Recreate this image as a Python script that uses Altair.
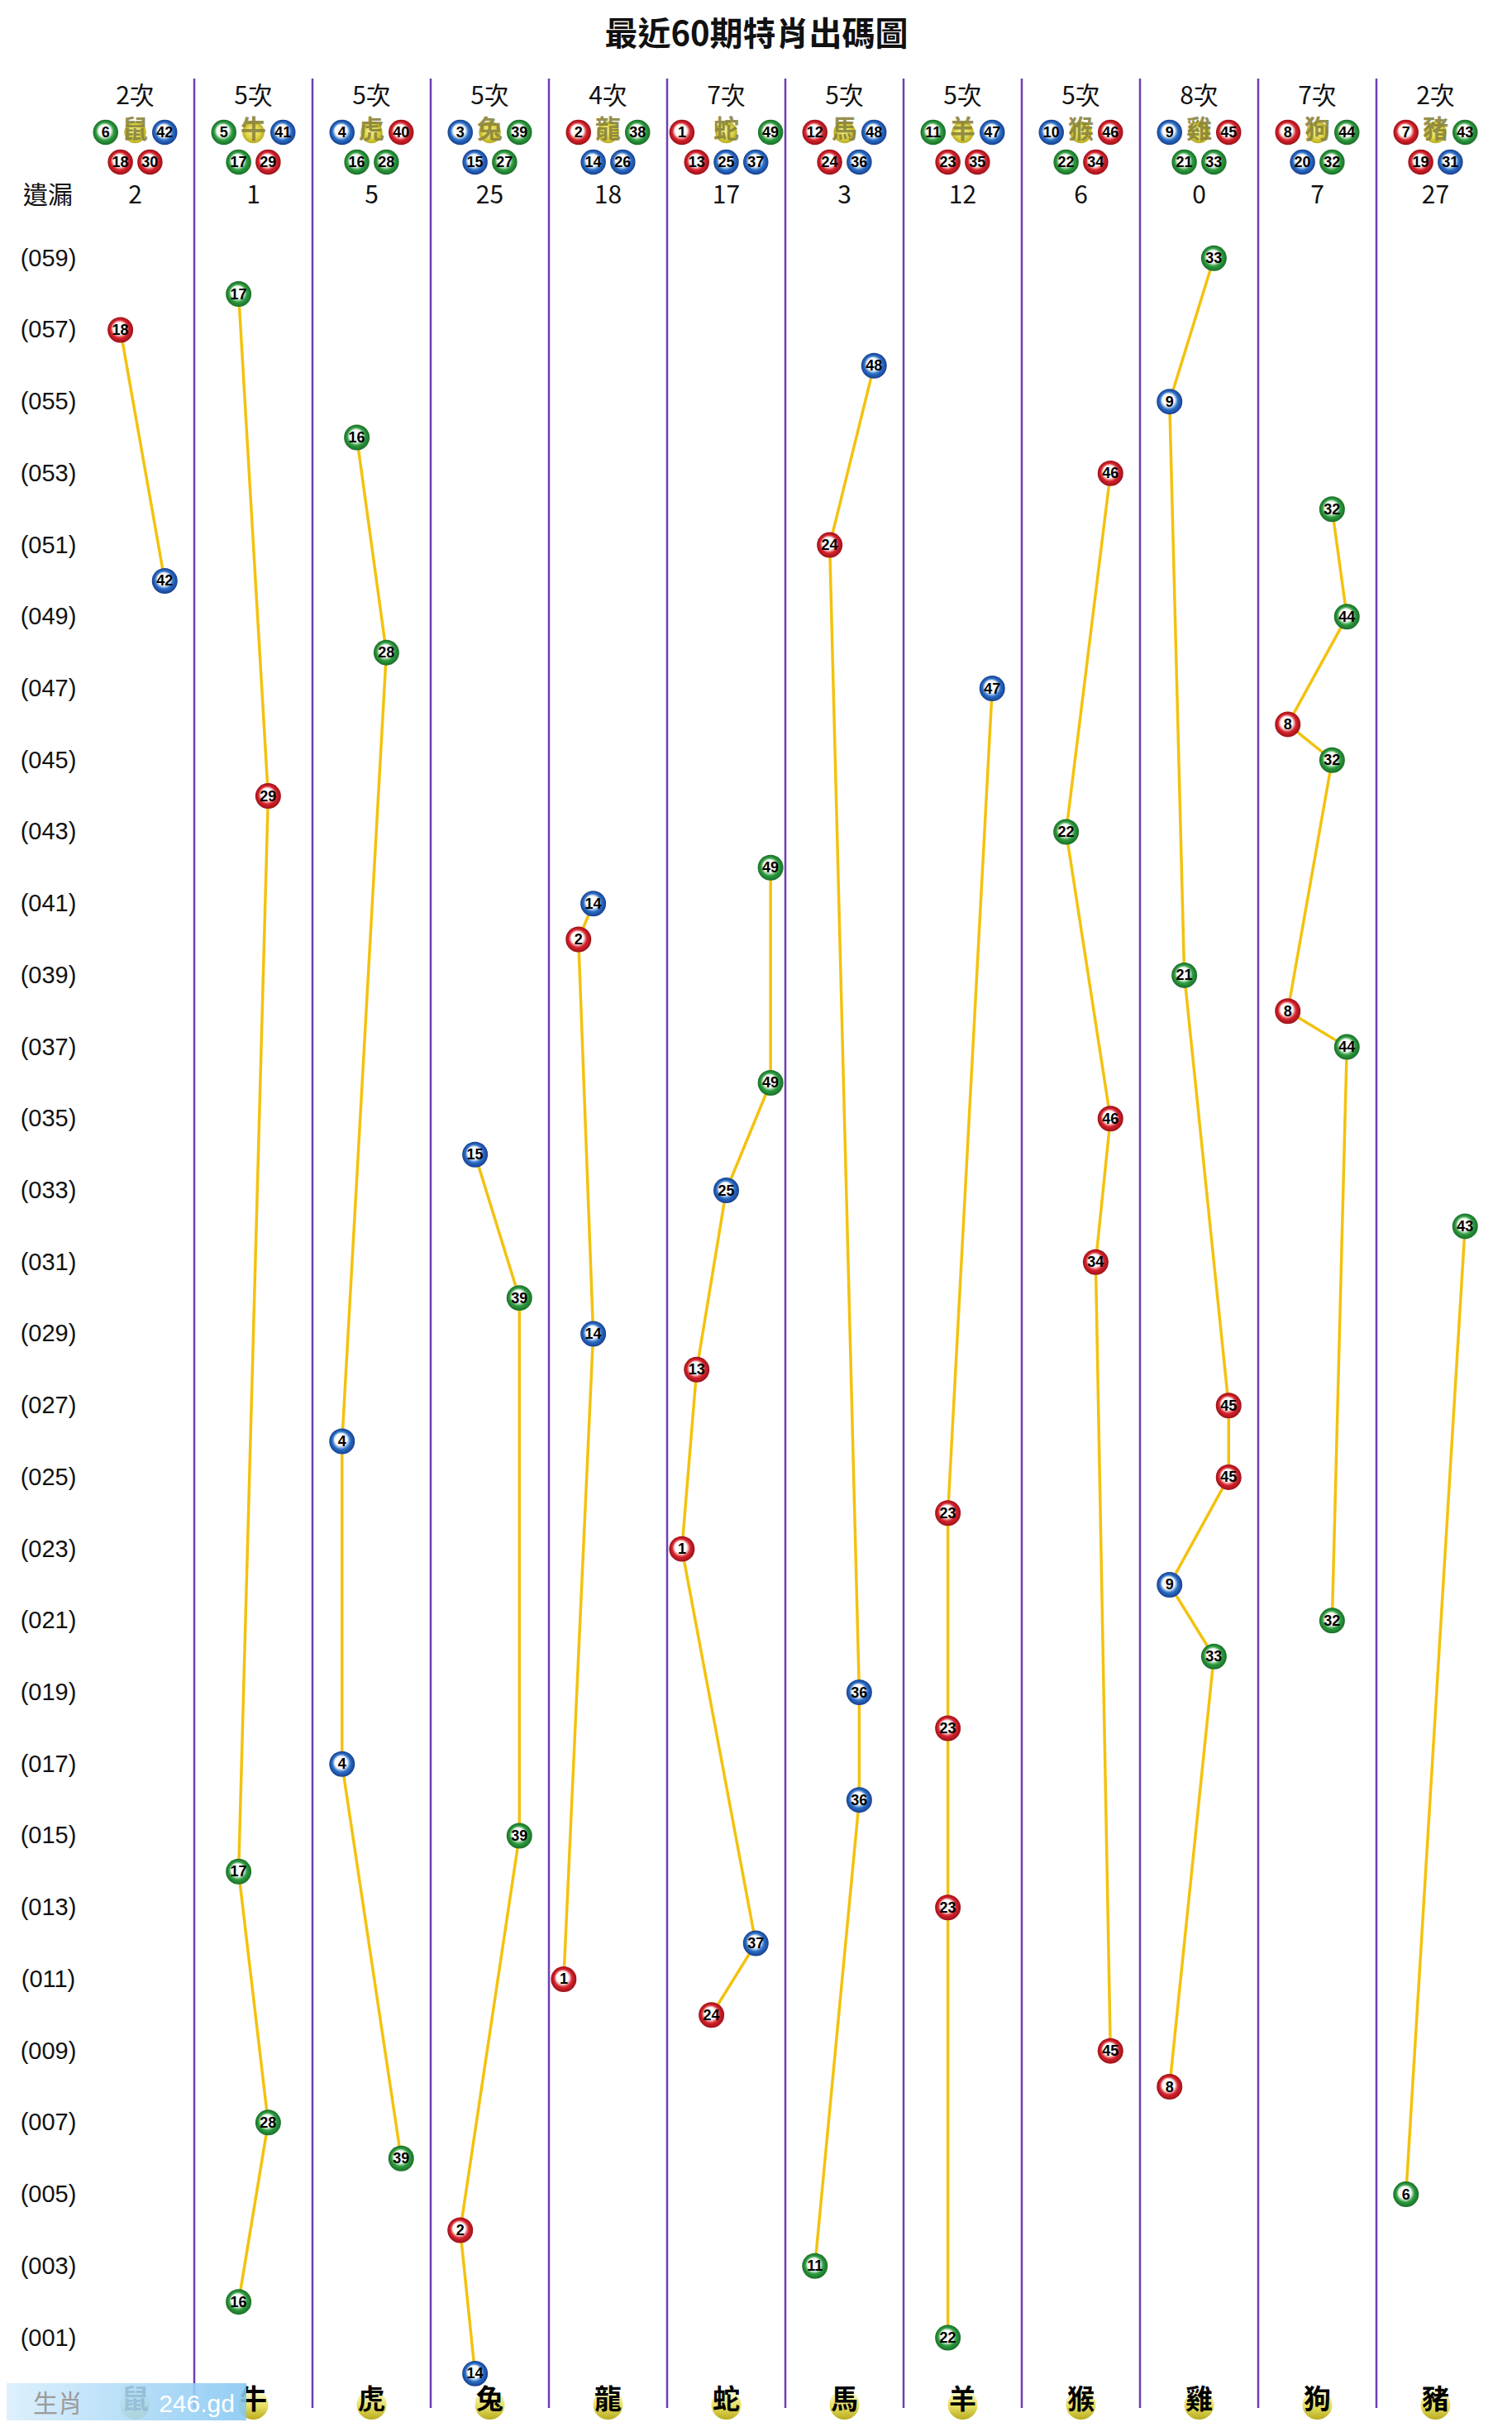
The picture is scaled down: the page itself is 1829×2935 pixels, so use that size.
import altair as alt
import pandas as pd

# ---------------- data ----------------
ZODIACS = ["鼠", "牛", "虎", "兔", "龍", "蛇", "馬", "羊", "猴", "雞", "狗", "豬"]
GROUPS = [
    [6, 18, 30, 42], [5, 17, 29, 41], [4, 16, 28, 40], [3, 15, 27, 39],
    [2, 14, 26, 38], [1, 13, 25, 37, 49], [12, 24, 36, 48], [11, 23, 35, 47],
    [10, 22, 34, 46], [9, 21, 33, 45], [8, 20, 32, 44], [7, 19, 31, 43],
]
COUNTS = [2, 5, 5, 5, 4, 7, 5, 5, 5, 8, 7, 2]
MISSES = [2, 1, 5, 25, 18, 17, 3, 12, 6, 0, 7, 27]

# draws, from the top row (period 059) down to the bottom row
PERIODS = list(range(59, -1, -1))
DRAW_ZODIAC = [
    "雞", "牛", "鼠", "馬", "雞", "虎", "猴", "狗", "馬", "鼠",
    "狗", "虎", "羊", "狗", "狗", "牛", "猴", "蛇", "龍", "龍",
    "雞", "狗", "狗", "蛇", "猴", "兔", "蛇", "豬", "猴", "兔",
    "龍", "蛇", "雞", "虎", "雞", "羊", "蛇", "雞", "狗", "雞",
    "馬", "羊", "虎", "馬", "兔", "牛", "羊", "蛇", "龍", "蛇",
    "猴", "雞", "牛", "虎", "豬", "兔", "馬", "牛", "羊", "兔",
]
DRAW_NUMBER = [
    33, 17, 18, 48, 9, 16, 46, 32, 24, 42,
    44, 28, 47, 8, 32, 29, 22, 49, 14, 2,
    21, 8, 44, 49, 46, 15, 25, 43, 34, 39,
    14, 13, 45, 4, 45, 23, 1, 9, 32, 33,
    36, 23, 4, 36, 39, 17, 23, 37, 1, 24,
    45, 8, 28, 39, 6, 2, 11, 16, 22, 14,
]
LABEL_PERIODS = [59, 57, 55, 53, 51, 49, 47, 45, 43, 41, 39, 37, 35, 33, 31,
                 29, 27, 25, 23, 21, 19, 17, 15, 13, 11, 9, 7, 5, 3, 1]

RED = [1, 2, 7, 8, 12, 13, 18, 19, 23, 24, 29, 30, 34, 35, 40, 45, 46]
BLUE = [3, 4, 9, 10, 14, 15, 20, 25, 26, 31, 36, 37, 41, 42, 47, 48]
GREEN = [5, 6, 11, 16, 17, 21, 22, 27, 28, 32, 33, 38, 39, 43, 44, 49]

TITLE = "最近60期特肖出碼圖"

# ---------------- helpers ----------------
def ball_color(n):
    if n in RED:
        return "red"
    if n in BLUE:
        return "blue"
    return "green"


def slot(n):
    # balls sit where they sit in the header cluster of their number group
    idx = (n - 1) // 12
    if (n - 1) % 12 == 0:
        return [-3, -2, 0, 2, 3][idx]
    return [-2, -1, 1, 2][idx]


col_of = {z: i for i, z in enumerate(ZODIACS)}

draws = pd.DataFrame({"p": PERIODS, "zodiac": DRAW_ZODIAC, "num": DRAW_NUMBER})
draws["col"] = draws["zodiac"].map(col_of)
draws["xpos"] = draws["col"] + draws["num"].map(slot) / 8.0
draws["color"] = draws["num"].map(ball_color)

hrows = []
for i, (z, g) in enumerate(zip(ZODIACS, GROUPS)):
    for k, n in enumerate(g):
        hrows.append({"zodiac": z, "num": n, "xpos": i + slot(n) / 8.0,
                      "row": 1 if k in (0, len(g) - 1) else 2,
                      "color": ball_color(n)})
header = pd.DataFrame(hrows)

zdf = pd.DataFrame({"zodiac": ZODIACS, "col": list(range(len(ZODIACS))),
                    "count": [f"{c}次" for c in COUNTS], "miss": MISSES})
dividers = pd.DataFrame({"b": [k + 0.5 for k in range(len(ZODIACS) - 1)]})

# ---------------- geometry / styles ----------------
W, H = 1716, 2817
xscale = alt.Scale(domain=[-0.5, len(ZODIACS) - 0.5], nice=False, zero=False)
yscale = alt.Scale(domain=[-0.96, 64.01], nice=False, zero=False)

yaxis = alt.Axis(values=LABEL_PERIODS,
                 labelExpr="'(' + (datum.value < 10 ? '00' : '0') + datum.value + ')'",
                 ticks=False, tickSize=0, domain=False, grid=False,
                 labelPadding=34, labelAlign="center", labelBaseline="middle",
                 labelFontSize=29, labelFont="Liberation Sans", labelColor="#111111",
                 labelOverlap=False, labelFlush=False, title="")

X = alt.X("xpos:Q", scale=xscale, axis=None)
Y = alt.Y("p:Q", scale=yscale, axis=yaxis)
XC = alt.X("col:Q", scale=xscale, axis=None)

COLORS = {
    "red": ("#d8232c", "#9c1119"),
    "blue": ("#2c70c8", "#173f8f"),
    "green": ("#2e9d40", "#1a6e28"),
}
NUM_FONT = "Liberation Sans"
CJK = "Noto Sans CJK TC"
GOLD = "#f3c20f"
PURPLE = "#6d3fb2"


def grad(c, dark):
    return {"gradient": "radial", "x1": 0.42, "y1": 0.38, "r1": 0,
            "x2": 0.5, "y2": 0.5, "r2": 0.5,
            "stops": [{"offset": 0, "color": "#ffffff"},
                      {"offset": 0.48, "color": "#fbfbfb"},
                      {"offset": 0.7, "color": c},
                      {"offset": 1, "color": dark}]}


def ball_layers(df, x_enc, y_enc, size, font_size):
    out = []
    for cname, (c, dark) in COLORS.items():
        out.append(
            alt.Chart(df).transform_filter(alt.datum.color == cname)
            .mark_point(shape="circle", filled=True, opacity=1, size=size,
                        color=grad(c, dark), strokeWidth=0)
            .encode(x=x_enc, y=y_enc)
        )
    out.append(
        alt.Chart(df).mark_text(font=NUM_FONT, fontSize=font_size, fontWeight="bold",
                                color="#000000", baseline="middle", dy=1)
        .encode(x=x_enc, y=y_enc, text="num:N")
    )
    return out


layers = []

# vertical column dividers
layers.append(
    alt.Chart(dividers).mark_rule(color=PURPLE, strokeWidth=2.5)
    .encode(x=alt.X("b:Q", scale=xscale, axis=None), y=alt.value(0), y2=alt.value(H))
)

# connecting lines
layers.append(
    alt.Chart(draws).mark_line(color=GOLD, strokeWidth=3.5)
    .encode(x=X, y=Y, detail="zodiac:N", order="p:Q")
)

# drawn balls
layers += ball_layers(draws, X, Y, 960, 18)

# header: counts
layers.append(
    alt.Chart(zdf).mark_text(font=CJK, fontSize=30, color="#111111", baseline="middle")
    .encode(x=XC, y=alt.value(22), text="count:N")
)

# header: zodiac yellow ball + olive char
layers.append(
    alt.Chart(zdf).mark_point(shape="circle", filled=True, opacity=1, size=700, strokeWidth=0,
                              color={"gradient": "radial", "x1": 0.45, "y1": 0.4, "r1": 0,
                                     "x2": 0.5, "y2": 0.5, "r2": 0.5,
                                     "stops": [{"offset": 0, "color": "#f7f29a"},
                                               {"offset": 0.6, "color": "#e2d84a"},
                                               {"offset": 1, "color": "#b9ad22"}]})
    .encode(x=XC, y=alt.value(65))
)
layers.append(
    alt.Chart(zdf).mark_text(font=CJK, fontSize=31, fontWeight="bold", color="#8a843c",
                             baseline="middle", opacity=0.9)
    .encode(x=XC, y=alt.value(63), text="zodiac:N")
)

# header number balls
layers += ball_layers(header[header["row"] == 1], X, alt.value(65), 930, 18)
layers += ball_layers(header[header["row"] == 2], X, alt.value(101), 930, 18)

# 遺漏 row
layers.append(
    alt.Chart(pd.DataFrame({"t": ["遺漏"]})).mark_text(font=CJK, fontSize=30, color="#111111",
                                                       baseline="middle")
    .encode(x=alt.value(-34), y=alt.value(142), text="t:N")
)
layers.append(
    alt.Chart(zdf).mark_text(font=CJK, fontSize=30, color="#111111", baseline="middle")
    .encode(x=XC, y=alt.value(142), text="miss:N")
)

# bottom zodiac labels on yellow balls
layers.append(
    alt.Chart(zdf).mark_point(shape="circle", filled=True, opacity=1, size=1300, strokeWidth=0,
                              color={"gradient": "linear", "x1": 0, "y1": 0, "x2": 0, "y2": 1,
                                     "stops": [{"offset": 0, "color": "#fdfbd8"},
                                               {"offset": 0.55, "color": "#e6df62"},
                                               {"offset": 1, "color": "#b8ab1e"}]})
    .encode(x=XC, y=alt.value(2813))
)
layers.append(
    alt.Chart(zdf).mark_text(font=CJK, fontSize=33, fontWeight="bold", color="#000000",
                             baseline="middle")
    .encode(x=XC, y=alt.value(2808), text="zodiac:N")
)

# site watermark in the bottom-left corner
wm = pd.DataFrame({"a": [0]})
layers.append(
    alt.Chart(wm).mark_rect(opacity=0.88,
                            color={"gradient": "linear", "x1": 0, "y1": 0, "x2": 1, "y2": 0,
                                   "stops": [{"offset": 0, "color": "#d9eefc"},
                                             {"offset": 1, "color": "#85c7f2"}]})
    .encode(x=alt.value(-84), x2=alt.value(206), y=alt.value(2787), y2=alt.value(2840))
)
layers.append(
    alt.Chart(pd.DataFrame({"t": ["生肖"]})).mark_text(font=CJK, fontSize=30, color="#9b9b9b",
                                                     baseline="middle")
    .encode(x=alt.value(-22), y=alt.value(2813), text="t:N")
)
layers.append(
    alt.Chart(pd.DataFrame({"t": ["246.gd"]})).mark_text(font="Liberation Sans", fontSize=30,
                                                        color="#ffffff", baseline="middle")
    .encode(x=alt.value(146), y=alt.value(2813), text="t:N")
)

chart = (
    alt.layer(*layers)
    .properties(
        width=W, height=H,
        background="#ffffff",
        title=alt.TitleParams(text=TITLE, fontSize=40, font=CJK, fontWeight="bold",
                              color="#111111", anchor="middle", dx=-35, offset=31),
        autosize=alt.AutoSizeParams(type="none"),
        padding={"left": 84, "top": 87, "right": 13, "bottom": 15},
    )
    .configure_view(strokeWidth=0, stroke="transparent")
)

chart.save("out.html", embed_options={"renderer": "svg", "actions": False})
